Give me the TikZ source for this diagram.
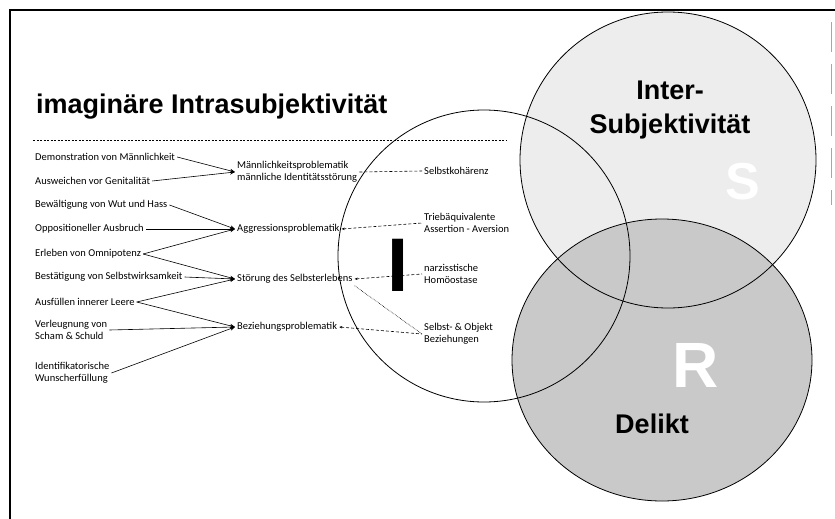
\documentclass[tikz,border=0pt]{standalone}
\usepackage{fontspec}
\setmainfont{Carlito}
\newfontfamily\headfont{Liberation Sans}
\usetikzlibrary{arrows.meta,positioning}

\begin{document}
\begin{tikzpicture}[x=1pt,y=-1pt,>={Stealth[length=5pt,width=4pt]},
 item/.style={anchor=west,inner sep=2pt,align=left,font=\fontsize{10.5}{12}\selectfont},
 head/.style={font=\headfont\bfseries\fontsize{27}{34}\selectfont,align=center,inner sep=0pt},
 letter/.style={font=\headfont\bfseries\fontsize{#1}{#1}\selectfont,inner sep=0pt},
 link/.style={semithick,densely dashed}]
\useasboundingbox (0,0) rectangle (835,519);
\fill[white] (0,0) rectangle (835,519);
% the three circles
\fill[gray!14] (668,160) circle[radius=148];
\fill[gray!42] (662,360) ellipse[x radius=150,y radius=141];
\draw[thick] (668,160) circle[radius=148];
\draw[thick] (662,360) ellipse[x radius=150,y radius=141];
\draw[thick] (484,256) circle[radius=146];
% frame
\draw[line width=1.1pt] (10,519) -- (10,10) -- (835,10);
\draw[gray!70,line width=0.8pt,dash pattern=on 30pt off 12pt] (831,22) -- (831,205);
% title
\node[head,anchor=base west] (title) at (36,113) {imaginäre Intrasubjektivität};
\draw[line width=0.7pt,dash pattern=on 2pt off 1.5pt] (33,140) -- (507,140);
% left column
\node[item] (l1) at (33,157) {Demonstration von Männlichkeit};
\node[item] (l2) at (33,181) {Ausweichen vor Genitalität};
\node[item] (l3) at (33,205) {Bewältigung von Wut und Hass};
\node[item] (l4) at (33,229) {Oppositioneller Ausbruch};
\node[item] (l5) at (33,254) {Erleben von Omnipotenz};
\node[item] (l6) at (33,277) {Bestätigung von Selbstwirksamkeit};
\node[item] (l7) at (33,302) {Ausfüllen innerer Leere};
\node[item] (l8) at (33,330) {Verleugnung von\\Scham \& Schuld};
\node[item] (l9) at (33,373) {Identifikatorische\\Wunscherfüllung};
% middle column
\node[item] (mann) at (235,172) {Männlichkeitsproblematik\\männliche Identitätsstörung};
\node[item] (aggr) at (235,229) {Aggressionsproblematik};
\node[item] (selbst) at (235,279) {Störung des Selbsterlebens};
\node[item] (bez) at (235,327) {Beziehungsproblematik};
% right column
\node[item] (koh) at (422,171) {Selbstkohärenz};
\node[item] (trieb) at (422,223) {Triebäquivalente\\Assertion - Aversion};
\node[item] (narz) at (422,274) {narzisstische\\Homöostase};
\node[item] (obj) at (422,334) {Selbst- \& Objekt\\Beziehungen};
\foreach \a/\b in {l1/mann,l2/mann,l3/aggr,l4/aggr,l5/aggr,l5/selbst,l6/selbst,l7/selbst,l7/bez,l8/bez,l9/bez}
  \draw[->,semithick] (\a.east) -- (\b.west);
\draw[link] (mann.east) -- (koh.west);
\draw[link,{Stealth[length=3pt,width=2.5pt]}-] (aggr.east) -- (trieb.west);
\draw[link,{Stealth[length=3pt,width=2.5pt]}-] (selbst.east) -- (narz.west);
\draw[link,{Stealth[length=3pt,width=2.5pt]}-] (bez.east) -- (obj.west);
\draw[semithick,densely dotted] (selbst.south east) -- (obj.west);
% circle labels
\node[letter=76] (ich) at (398,265) {I};
\node[letter=52,text=white] (sl) at (743,182) {S};
\node[letter=64,text=white] (rl) at (696,365) {R};
\node[head] (inter) at (670,110) {Inter-\\Subjektivität};
\node[head] (delikt) at (652,424) {Delikt};
\end{tikzpicture}
\end{document}
